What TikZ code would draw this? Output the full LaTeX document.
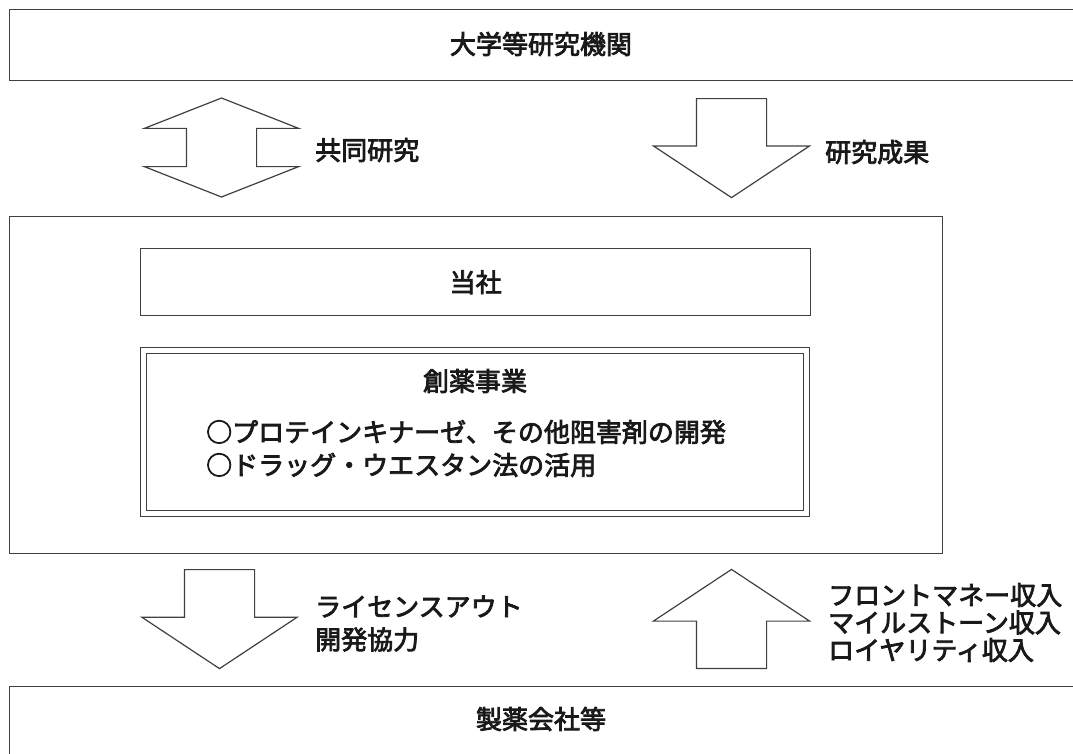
\documentclass[tikz,border=0pt]{standalone}
\usepackage{fontspec}
\setmainfont{Noto Sans CJK JP}[FakeBold=3]
\usepackage{tikz}
\usetikzlibrary{shapes.arrows, positioning}

\begin{document}
\begin{tikzpicture}[x=1pt, y=-1pt,
        frame/.style={draw=black!75, line width=1.3pt, inner sep=0pt},
        jptext/.style={font=\fontsize{26}{33}\selectfont, text=black!90, inner sep=0pt, align=left},
        blockarrow/.style={single arrow, draw=black!75, line width=1.2pt, inner xsep=0pt, inner ysep=34.5pt,
            single arrow head extend=43pt, single arrow tip angle=113, minimum height=99pt, anchor=tail},
        downarrow/.style={blockarrow, rotate=-90},
        uparrow/.style={blockarrow, rotate=90},
        botharrow/.style={double arrow, draw=black!75, line width=1.2pt, inner xsep=0pt, inner ysep=34.5pt,
            double arrow head extend=42pt, double arrow tip angle=137, minimum height=99pt, rotate=90}]
        \clip (0,0) rectangle (1073,753);

        \node[frame, minimum width=1090, minimum height=71, anchor=north west] (univ) at (9,9) {};
        \node[jptext] (univname) at (541,44) {大学等研究機関};

        \node[botharrow] (joint) at (221.5,147.5) {};
        \node[jptext, anchor=west] (jointname) at (315,150) {共同研究};
        \node[downarrow] (result) at (731.5,98) {};
        \node[jptext, anchor=west] (resultname) at (825,152) {研究成果};

        \node[frame, minimum width=933, minimum height=337, anchor=north west] (company) at (9,216) {};
        \node[frame, jptext, minimum width=670, minimum height=67, anchor=north west] (us) at (140,248) {当社};
        \node[frame, double, double distance=4.5pt, line width=1.2pt, minimum width=663, minimum height=163] (drug) at (475,432) {};
        \node[jptext] (drugname) at (475,381) {創薬事業};
        \node[jptext, anchor=west] (druglist) at (206,448.5)
            {○プロテインキナーゼ、その他阻害剤の開発\\○ドラッグ・ウエスタン法の活用};

        \node[downarrow, single arrow head extend=42.5pt] (license) at (219.5,569) {};
        \node[jptext, anchor=west] (licensename) at (315,623.5) {ライセンスアウト\\開発協力};
        \node[uparrow] (income) at (731.5,669) {};
        \node[jptext, anchor=west, font=\fontsize{26}{27.5}\selectfont] (incomename) at (828,622.5)
            {フロントマネー収入\\マイルストーン収入\\ロイヤリティ収入};

        \node[frame, minimum width=1090, minimum height=80, anchor=north west] (pharma) at (9,686) {};
        \node[jptext] (pharmaname) at (541,719) {製薬会社等};
    \end{tikzpicture}
\end{document}
